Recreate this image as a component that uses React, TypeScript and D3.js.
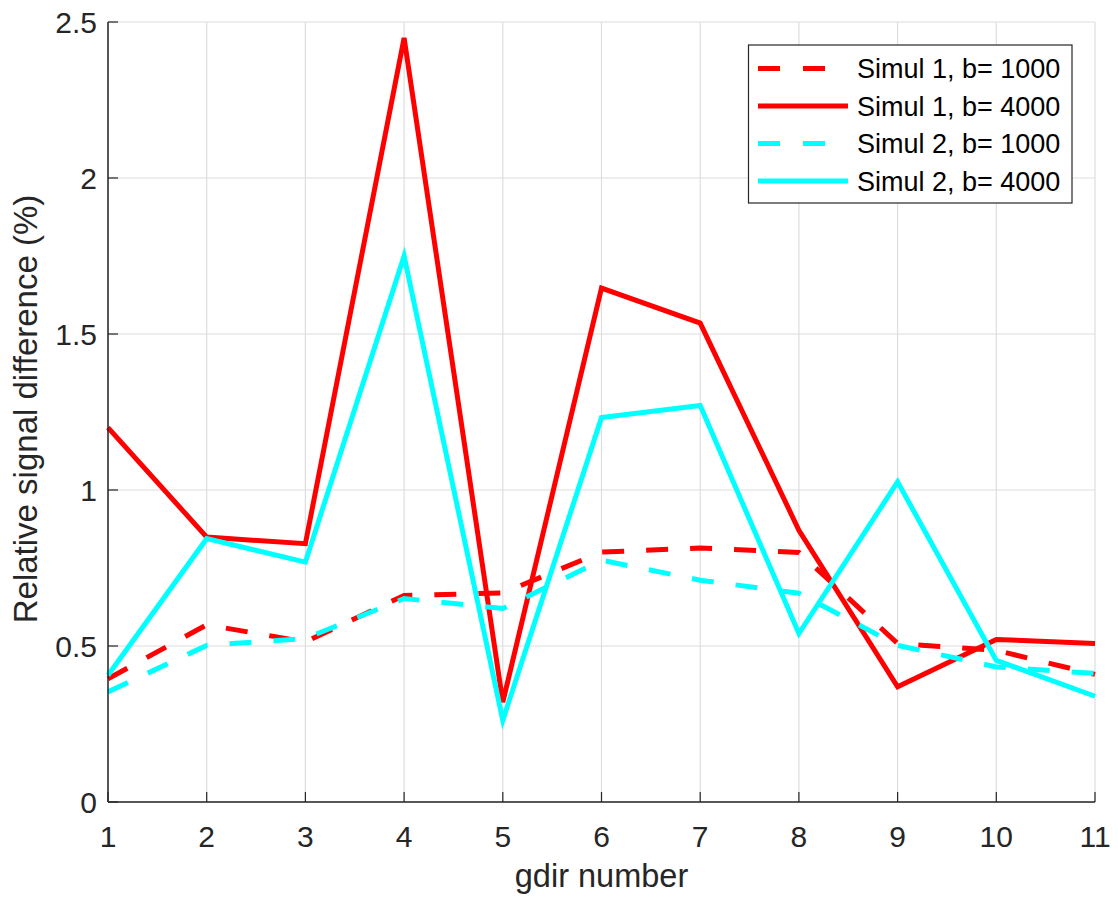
import React from "react";
import * as d3 from "d3";

const gdir = [1, 2, 3, 4, 5, 6, 7, 8, 9, 10, 11];
const simul1B1000 = [0.395, 0.568, 0.513, 0.662, 0.670, 0.801, 0.814, 0.800, 0.508, 0.486, 0.409];
const simul1B4000 = [1.20, 0.849, 0.828, 2.449, 0.32, 1.647, 1.535, 0.871, 0.369, 0.521, 0.508];
const simul2B1000 = [0.353, 0.502, 0.524, 0.652, 0.620, 0.775, 0.711, 0.669, 0.502, 0.433, 0.412];
const simul2B4000 = [0.406, 0.844, 0.769, 1.75, 0.262, 1.232, 1.271, 0.54, 1.026, 0.454, 0.339];
const yTicks = [0, 0.5, 1, 1.5, 2, 2.5];
const xTicks = [1, 2, 3, 4, 5, 6, 7, 8, 9, 10, 11];

const series = [
  { name: "Simul 1, b= 1000", values: simul1B1000, color: "#ff0000", dashed: true },
  { name: "Simul 1, b= 4000", values: simul1B4000, color: "#ff0000", dashed: false },
  { name: "Simul 2, b= 1000", values: simul2B1000, color: "#00ffff", dashed: true },
  { name: "Simul 2, b= 4000", values: simul2B4000, color: "#00ffff", dashed: false },
];

export default function App() {
  const W = 1118, H = 897;
  const left = 108, right = 1095, top = 22, bottom = 802;
  const x = d3.scaleLinear().domain([1, 11]).range([left, right]);
  const y = d3.scaleLinear().domain([0, 2.5]).range([bottom, top]);
  const line = d3.line<number>().x((_, i) => x(gdir[i])).y((d) => y(d));
  const axisColor = "#262626";
  const font = "Arial, 'Liberation Sans', Helvetica, sans-serif";
  const dash = "22 22";

  return (
    <svg width={W} height={H} style={{ position: "absolute", left: 0, top: 0, background: "#fff" }} fontFamily={font}>
      <rect x={0} y={0} width={W} height={H} fill="#fff" />
      {/* grid */}
      {xTicks.map((t) => (
        <line key={"gx" + t} x1={x(t)} x2={x(t)} y1={top} y2={bottom} stroke="#dedede" strokeWidth={1.2} />
      ))}
      {yTicks.map((t) => (
        <line key={"gy" + t} x1={left} x2={right} y1={y(t)} y2={y(t)} stroke="#dedede" strokeWidth={1.2} />
      ))}
      {/* series */}
      {series.map((s) => (
        <path
          key={s.name}
          d={line(s.values) || ""}
          fill="none"
          stroke={s.color}
          strokeWidth={5}
          strokeDasharray={s.dashed ? dash : undefined}
          strokeLinejoin="miter"
        />
      ))}
      {/* axes */}
      <line x1={left} x2={left} y1={top} y2={bottom} stroke={axisColor} strokeWidth={1.5} />
      <line x1={left} x2={right} y1={bottom} y2={bottom} stroke={axisColor} strokeWidth={1.5} />
      {xTicks.map((t) => (
        <g key={"xt" + t}>
          <line x1={x(t)} x2={x(t)} y1={bottom} y2={bottom - 10} stroke={axisColor} strokeWidth={1.2} />
          <text x={x(t)} y={847} textAnchor="middle" fontSize={30} fill={axisColor}>
            {t}
          </text>
        </g>
      ))}
      {yTicks.map((t) => (
        <g key={"yt" + t}>
          <line x1={left} x2={left + 10} y1={y(t)} y2={y(t)} stroke={axisColor} strokeWidth={1.2} />
          <text x={97} y={y(t) + 11} textAnchor="end" fontSize={30} fill={axisColor}>
            {t}
          </text>
        </g>
      ))}
      <text x={601.5} y={887} textAnchor="middle" fontSize={32.5} fill={axisColor}>
        gdir number
      </text>
      <text
        transform={`translate(37, 409) rotate(-90)`}
        textAnchor="middle"
        fontSize={33}
        fill={axisColor}
      >
        Relative signal difference (%)
      </text>
      {/* legend */}
      <rect x={748.5} y={45} width={323.5} height={158} fill="#fff" stroke="#262626" strokeWidth={1.2} />
      {series.map((s, i) => {
        const ly = 68.5 + i * 37.5;
        return (
          <g key={"lg" + s.name}>
            <line
              x1={758}
              x2={848}
              y1={ly}
              y2={ly}
              stroke={s.color}
              strokeWidth={5}
              strokeDasharray={s.dashed ? "22 23" : undefined}
            />
            <text x={857} y={ly + 9.5} fontSize={27} fill="#000">
              {s.name}
            </text>
          </g>
        );
      })}
    </svg>
  );
}
